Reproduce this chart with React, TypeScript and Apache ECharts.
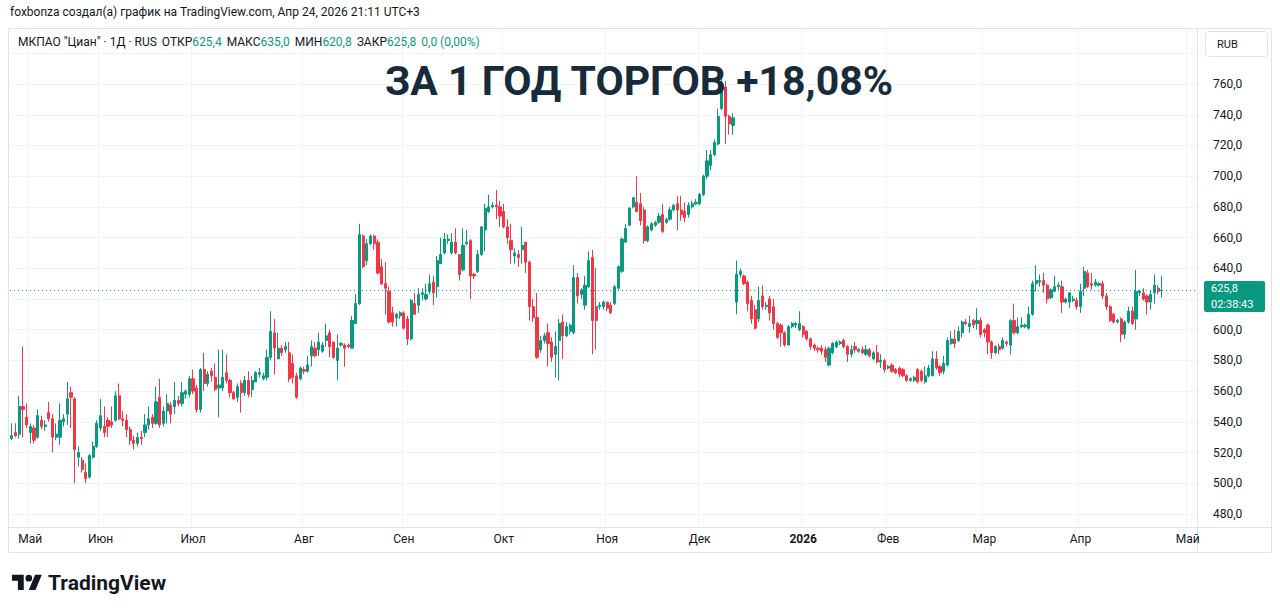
import React, { useEffect, useRef } from 'react';
import * as echarts from 'echarts';

// [open, close, low, high] per trading day
const candles: number[][] = [
  [529,531,528,539],[533,531,530,539],[532,550,529,557],[550,548,530,589],[543,538,536,552],
  [533,537,526,539],[536,528,526,538],[530,544,529,548],[541,537,535,544],[537,538,534,541],
  [546,542,540,553],[542,530,520,545],[530,532,528,539],[530,541,525,552],[540,542,537,545],
  [545,555,538,566],[559,556,536,563],[555,522,500,556],[517,520,511,524],[515,509,507,517],
  [507,503,500,513],[504,518,503,519],[517,524,516,527],[524,539,523,541],[536,544,534,555],
  [537,533,530,550],[541,537,530,543],[540,538,536,550],[541,557,540,560],[557,542,541,565],
  [542,541,537,547],[541,535,530,545],[535,528,525,537],[528,526,522,531],[526,530,524,533],
  [530,529,525,534],[533,538,530,545],[538,542,535,550],[543,539,536,545],[539,553,538,563],
  [556,538,536,568],[539,547,537,550],[547,552,539,558],[551,545,539,553],[550,554,545,566],
  [554,552,550,557],[552,559,550,566],[558,560,555,561],[558,568,556,570],[568,560,558,574],
  [562,548,546,564],[548,574,546,575],[574,565,560,585],[565,571,563,573],[573,570,566,575],
  [569,561,560,578],[562,564,543,587],[562,569,560,587],[572,567,565,584],[567,559,556,568],
  [559,555,554,560],[556,563,553,565],[565,559,546,567],[559,567,557,570],[567,558,556,573],
  [561,567,556,570],[566,572,566,573],[571,572,569,575],[568,570,567,572],[569,582,567,587],
  [582,599,580,612],[598,588,571,607],[581,588,581,598],[588,585,583,590],[587,589,585,592],
  [585,568,566,592],[578,569,565,584],[570,556,555,572],[568,575,567,576],[574,573,571,576],
  [573,577,572,583],[583,589,576,593],[588,583,582,592],[587,592,583,598],[586,590,585,592],
  [593,596,589,604],[598,589,582,600],[592,582,581,592],[580,588,567,597],[590,591,589,592],
  [590,588,576,591],[590,589,588,591],[588,606,588,609],[604,617,604,623],[617,662,616,669],
  [661,641,640,662],[645,656,642,659],[656,661,655,662],[661,656,652,662],[657,637,636,659],
  [641,630,629,646],[630,627,610,644],[625,605,604,628],[611,605,602,615],[608,610,602,611],
  [609,611,607,612],[611,601,600,612],[607,594,590,609],[594,619,593,620],[617,610,610,624],
  [616,623,611,627],[623,624,619,627],[620,623,619,630],[625,630,623,636],[631,624,616,635],
  [628,645,621,648],[643,649,643,660],[650,659,649,663],[658,659,656,662],[650,657,649,663],
  [657,650,649,666],[649,636,632,649],[639,655,638,666],[656,657,655,665],[658,635,620,659],
  [636,635,633,637],[638,649,637,652],[649,667,648,667],[665,679,651,682],[677,680,676,688],
  [680,681,679,683],[681,680,672,691],[680,674,667,684],[677,667,666,682],[667,660,656,672],
  [658,652,643,669],[648,650,643,653],[649,647,641,652],[652,655,643,667],[657,644,637,657],
  [644,615,606,645],[615,608,605,620],[608,582,581,624],[587,593,585,596],[593,596,591,598],
  [598,591,576,604],[592,582,579,595],[584,589,569,599],[593,604,567,607],[605,596,581,610],
  [596,602,595,605],[599,603,597,604],[598,634,597,642],[634,622,617,637],[623,626,620,627],
  [616,629,613,635],[628,645,627,651],[647,606,584,652],[615,606,587,640],[615,616,613,618],
  [615,618,613,619],[618,614,612,618],[616,611,610,618],[617,628,616,629],[627,641,626,642],
  [638,659,637,660],[657,666,657,669],[668,679,668,680],[680,686,679,686],[683,677,677,700],
  [682,671,668,689],[678,658,656,680],[658,667,657,668],[665,669,664,670],[668,670,667,671],
  [670,674,669,676],[675,664,663,682],[670,672,669,673],[672,678,671,680],[678,681,677,682],
  [682,678,665,687],[678,675,671,687],[677,673,670,683],[675,681,673,683],[680,682,679,684],
  [682,683,681,685],[682,688,681,689],[688,700,687,701],[700,710,698,717],[707,714,704,717],
  [714,722,713,724],[721,739,720,744],[744,760,743,765],[758,739,721,762],[739,734,727,740],
  [733,738,727,741],[618,636,610,645],[636,638,634,640],[635,630,629,636],[631,617,612,632],
  [619,607,604,622],[613,601,600,616],[607,619,605,628],[622,615,613,629],[615,616,613,618],
  [620,611,606,622],[615,604,600,620],[604,595,594,605],[603,598,589,604],[598,590,589,599],
  [590,602,590,603],[602,604,601,605],[603,604,601,605],[600,604,599,612],[602,597,595,603],
  [599,594,593,600],[594,589,587,595],[590,588,586,591],[588,587,585,589],[588,586,584,590],
  [587,582,579,589],[577,588,576,589],[585,591,584,592],[589,592,588,593],[591,592,590,593],
  [593,589,588,594],[589,584,579,590],[584,587,582,590],[589,587,585,592],[586,587,585,588],
  [587,585,584,589],[584,587,583,590],[587,583,582,588],[581,585,580,586],[585,579,578,590],
  [579,580,575,584],[580,574,572,581],[575,576,574,577],[577,573,572,578],[574,572,571,575],
  [575,571,569,576],[574,570,569,575],[570,567,566,571],[567,568,566,569],[567,569,566,570],
  [574,566,565,575],[573,567,566,574],[566,570,565,576],[570,575,569,577],[570,581,570,586],
  [581,575,574,586],[576,572,570,577],[573,578,571,583],[577,593,576,595],[591,594,590,599],
  [594,591,588,600],[593,599,592,602],[598,605,595,606],[605,604,603,607],[602,604,598,609],
  [606,603,601,607],[604,606,600,614],[606,597,595,608],[600,598,595,601],[603,592,584,604],
  [592,585,581,593],[585,589,584,590],[589,587,584,591],[588,593,587,595],[592,591,589,593],
  [590,606,584,607],[606,598,597,617],[598,602,597,608],[602,603,601,608],[602,603,601,604],
  [601,610,600,615],[610,630,609,632],[630,632,625,642],[631,632,628,636],[632,629,624,637],
  [629,620,617,630],[621,626,620,627],[625,628,625,635],[628,629,626,631],[628,618,611,632],
  [618,620,617,621],[618,624,614,624],[619,620,618,622],[619,615,613,621],[615,625,611,630],
  [627,638,622,641],[637,628,627,639],[630,629,626,637],[629,631,628,633],[629,630,628,631],
  [630,622,620,632],[622,615,613,624],[615,606,605,616],[610,605,604,611],[605,606,604,607],
  [607,597,592,608],[597,605,594,606],[605,612,604,615],[612,604,603,615],[607,625,600,639],
  [624,625,622,626],[624,620,619,627],[622,618,610,623],[618,623,613,626],[624,629,617,636],
  [627,625,623,629],[625.4,625.8,620.8,635.0]
];

// empty slots to the right of the last candle (future time)
const futureSlots = 9;

// month labels on the time axis: slot index and text
const monthTicks = [
  { index: 5, label: 'Май' },
  { index: 24, label: 'Июн' },
  { index: 49, label: 'Июл' },
  { index: 79, label: 'Авг' },
  { index: 106, label: 'Сен' },
  { index: 133, label: 'Окт' },
  { index: 161, label: 'Ноя' },
  { index: 186, label: 'Дек' },
  { index: 214, label: '2026' },
  { index: 237, label: 'Фев' },
  { index: 263, label: 'Мар' },
  { index: 289, label: 'Апр' },
  { index: 318, label: 'Май' },
];

const priceTicks = [480, 500, 520, 540, 560, 580, 600, 620, 640, 660, 680, 700, 720, 740, 760];

const lastQuote = { open: 625.4, high: 635.0, low: 620.8, close: 625.8 };
const changeText = '0,0 (0,00%)';
const timerText = '02:38:43';
const headerText = 'foxbonza создал(а) график на TradingView.com, Апр 24, 2026 21:11 UTC+3';
const symbolText = 'МКПАО "Циан" · 1Д · RUS';
const titleText = 'ЗА 1 ГОД ТОРГОВ +18,08%';

const UP = '#089981';
const DOWN = '#F23645';
const TXT = '#131722';
const FONT = 'Roboto, "Noto Sans", "DejaVu Sans", sans-serif';

const fmt = (v: number) => v.toFixed(1).replace('.', ',');

const TV_LOGO =
  'M14 22H7V11H0V4h14v18ZM28 22h-8l7.5-18h8L28 22Z M24 8a4 4 0 1 1 -8 0a4 4 0 1 1 8 0Z';

export default function App() {
  const ref = useRef<HTMLDivElement>(null);

  useEffect(() => {
    if (!ref.current) return;
    try {
      echarts.graphic.registerShape('tvlogo', echarts.graphic.extendPath(TV_LOGO, {}));
    } catch (e) {}
    const chart = echarts.init(ref.current, undefined, { renderer: 'svg' });

    const total = candles.length + futureSlots;
    const categories: string[] = new Array(total).fill('');
    const monthIdx = new Set<number>();
    monthTicks.forEach((m) => {
      categories[m.index] = m.label;
      monthIdx.add(m.index);
    });
    const catData = categories.map((c, i) => ({ value: c === '' ? '#' + i : c }));

    const option: any = {
      animation: false,
      backgroundColor: '#ffffff',
      grid: { left: 10, right: 83, top: 30, bottom: 86, containLabel: false },
      xAxis: {
        type: 'category',
        data: catData,
        boundaryGap: true,
        axisLine: { show: false },
        axisTick: { show: false },
        axisLabel: {
          interval: (i: number) => monthIdx.has(i),
          margin: 6,
          color: TXT,
          fontSize: 12,
          fontFamily: FONT,
          formatter: (v: string) => (v === '2026' ? '{b|2026}' : v.startsWith('#') ? '' : v),
          rich: { b: { fontWeight: 'bold', fontSize: 12, color: TXT, fontFamily: FONT } },
        },
        splitLine: {
          show: true,
          interval: (i: number) => monthIdx.has(i),
          lineStyle: { color: '#f0f3fa', width: 1 },
        },
      },
      yAxis: {
        type: 'value',
        position: 'right',
        min: 471.5,
        max: 795.2,
        splitNumber: 16,
        minInterval: 20,
        maxInterval: 20,
        scale: true,
        axisLine: { show: false },
        axisTick: { show: false },
        axisLabel: {
          margin: 16,
          color: TXT,
          fontSize: 12,
          fontFamily: FONT,
          showMinLabel: false,
          showMaxLabel: false,
          // the last-price badge covers the tick label next to it
          formatter: (v: number) =>
            priceTicks.includes(v) && Math.abs(v - lastQuote.close) > 10 ? fmt(v) : '',
        },
        splitLine: { lineStyle: { color: '#f0f3fa', width: 1 } },
      },
      series: [
        {
          type: 'candlestick',
          data: candles,
          barWidth: '72%',
          itemStyle: {
            color: UP,
            color0: DOWN,
            borderColor: UP,
            borderColor0: DOWN,
            borderWidth: 1,
          },
          markLine: {
            silent: true,
            symbol: ['none', 'none'],
            label: { show: false },
            lineStyle: { color: UP, type: [1, 3], width: 1 },
            data: [{ yAxis: lastQuote.close }],
          },
        },
      ],
    };
    chart.setOption(option);

    const yPx = chart.convertToPixel({ yAxisIndex: 0 }, lastQuote.close) as number;

    const GAP = '{s|}';
    const legendLine =
      `{d|${symbolText}}${GAP}` +
      `{d|ОТКР}{g|${fmt(lastQuote.open)}}${GAP}` +
      `{d|МАКС}{g|${fmt(lastQuote.high)}}${GAP}` +
      `{d|МИН}{g|${fmt(lastQuote.low)}}${GAP}` +
      `{d|ЗАКР}{g|${fmt(lastQuote.close)}}${GAP}` +
      `{g|${changeText}}`;

    chart.setOption({
      graphic: [
        // frame
        {
          type: 'rect',
          shape: { x: 8.5, y: 28.5, width: 1263, height: 524 },
          style: { fill: 'none', stroke: '#e0e3eb', lineWidth: 1 },
          silent: true,
        },
        {
          type: 'line',
          shape: { x1: 1197.5, y1: 29, x2: 1197.5, y2: 552 },
          style: { stroke: '#e0e3eb', lineWidth: 1 },
        },
        {
          type: 'line',
          shape: { x1: 9, y1: 527.5, x2: 1271, y2: 527.5 },
          style: { stroke: '#e0e3eb', lineWidth: 1 },
        },
        // header
        {
          type: 'text',
          x: 10,
          y: 12,
          style: { text: headerText, fill: TXT, fontSize: 12, fontFamily: FONT, verticalAlign: 'middle' },
        },
        // legend line
        {
          type: 'text',
          x: 18,
          y: 42,
          style: {
            text: legendLine,
            verticalAlign: 'middle',
            rich: {
              d: { fill: TXT, fontSize: 12, fontFamily: FONT },
              g: { fill: UP, fontSize: 12, fontFamily: FONT },
              s: { width: 5 },
            },
          },
        },
        // title
        {
          type: 'text',
          x: 639,
          y: 81,
          z: 100,
          style: {
            text: titleText,
            fill: '#172b3a',
            fontSize: 41,
            fontWeight: 'bold',
            fontFamily: FONT,
            align: 'center',
            verticalAlign: 'middle',
          },
        },
        // RUB button
        {
          type: 'rect',
          z: 100,
          shape: { x: 1205.5, y: 31.5, width: 62, height: 25, r: 3 },
          style: { fill: '#ffffff', stroke: '#e0e3eb', lineWidth: 1 },
        },
        {
          type: 'text',
          z: 101,
          x: 1217,
          y: 44,
          style: { text: 'RUB', fill: TXT, fontSize: 11, fontFamily: FONT, verticalAlign: 'middle' },
        },
        // last price label
        {
          type: 'rect',
          z: 100,
          shape: { x: 1204, y: yPx - 9, width: 61, height: 31, r: 2 },
          style: { fill: UP },
        },
        {
          type: 'text',
          z: 101,
          x: 1211,
          y: yPx - 1.5,
          style: { text: fmt(lastQuote.close), fill: '#ffffff', fontSize: 11, fontFamily: FONT, verticalAlign: 'middle' },
        },
        {
          type: 'text',
          z: 101,
          x: 1211,
          y: yPx + 14,
          style: { text: timerText, fill: '#ffffff', fontSize: 11, fontFamily: FONT, verticalAlign: 'middle' },
        },
        // TradingView logo
        {
          type: 'tvlogo',
          x: 12,
          y: 571.5,
          scaleX: 0.84,
          scaleY: 0.84,
          style: { fill: TXT },
        },
        {
          type: 'text',
          x: 48,
          y: 583,
          style: { text: 'TradingView', fill: TXT, fontSize: 21, fontWeight: 'bold', fontFamily: FONT, verticalAlign: 'middle' },
        },
      ],
    });

    return () => chart.dispose();
  }, []);

  return (
    <div
      ref={ref}
      style={{ position: 'fixed', left: 0, top: 0, width: 1280, height: 613, background: '#ffffff' }}
    />
  );
}
